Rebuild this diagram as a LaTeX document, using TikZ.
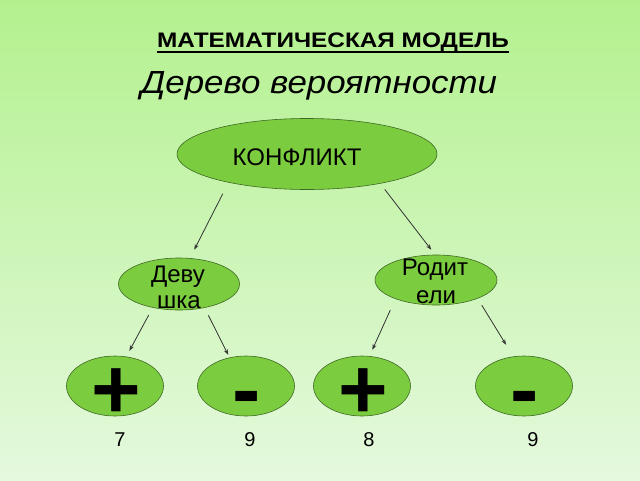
\documentclass[tikz,border=0pt]{standalone}
\usepackage{fontspec}
\setmainfont{Liberation Sans}
\usetikzlibrary{arrows.meta,shapes.geometric}

\definecolor{bgtop}{RGB}{179,241,142}
\definecolor{bgmid}{RGB}{205,245,185}
\definecolor{bgbot}{RGB}{229,249,222}
\definecolor{leaf}{RGB}{124,204,64}
\definecolor{rim}{RGB}{62,105,35}

\begin{document}
\begin{tikzpicture}[x=1pt,y=-1pt,
		oval/.style={ellipse,draw=rim,fill=leaf,line width=0.6pt,inner sep=0pt},
		txt/.style={anchor=base,inner sep=0pt},
		arr/.style={draw=black!80,line width=0.8pt,-{Stealth[length=5.5pt,width=4pt]}}]
	% background
	\useasboundingbox (0,0) rectangle (640,480);
	\shade[top color=bgtop,middle color=bgmid,bottom color=bgbot] (0,0) rectangle (640,480);
	% headings
	\node[txt,xscale=1.16] (title) at (333,47) {\fontsize{21}{24}\selectfont\bfseries МАТЕМАТИЧЕСКАЯ МОДЕЛЬ};
	\draw[line width=1.6pt] ([yshift=-5pt]title.base west) -- ([yshift=-5pt]title.base east);
	\node[txt,xscale=1.09] (sub) at (319,93) {\fontsize{32}{38}\selectfont\itshape Дерево вероятности};
	% tree
	\node[oval,minimum width=260pt,minimum height=71pt] (konf) at (307,154) {};
	\node[txt] (konf-t) at (297,165) {\fontsize{24}{28}\selectfont КОНФЛИКТ};
	\node[oval,minimum width=121pt,minimum height=52pt] (dev) at (179,284) {};
	\node[txt] (dev-t1) at (178,282) {\fontsize{24}{28}\selectfont Деву};
	\node[txt] (dev-t2) at (179,308) {\fontsize{24}{28}\selectfont шка};
	\node[oval,minimum width=122pt,minimum height=50pt] (rod) at (436,280) {};
	\node[txt] (rod-t1) at (435,275) {\fontsize{24}{28}\selectfont Родит};
	\node[txt] (rod-t2) at (436,303) {\fontsize{24}{28}\selectfont ели};
	% outcomes
	\foreach \n/\x/\s/\v/\vx in {p1/115/+/7/120, m1/246/-/9/250, p2/362/+/8/369, m2/524/-/9/533} {
		\node[oval,minimum width=97pt,minimum height=60pt] (\n) at (\x,386) {};
		\node[txt] (\n-s) at (\x+1,418) {\fontsize{85}{85}\selectfont\bfseries \s};
		\node[txt] (\n-v) at (\vx,446) {\fontsize{20}{24}\selectfont \v};
	}
	% arrows
	\draw[arr,shorten <=12.5pt,shorten >=9.5pt] (konf.200.6) -- (dev.67.7);
	\draw[arr,shorten <=7.3pt,shorten >=6.3pt] (konf.338.3) -- (rod.92.7);
	\draw[arr,shorten <=8.4pt,shorten >=6.5pt] (dev.222.3) -- (p1.69.8);
	\draw[arr,shorten <=8.3pt,shorten >=3pt] (dev.317) -- (m1.120.5);
	\draw[arr,shorten <=12.2pt,shorten >=7pt] (rod.205.5) -- (p2.76.7);
	\draw[arr,shorten <=7.9pt,shorten >=13.7pt] (rod.336.5) -- (m2.110.5);
\end{tikzpicture}
\end{document}
